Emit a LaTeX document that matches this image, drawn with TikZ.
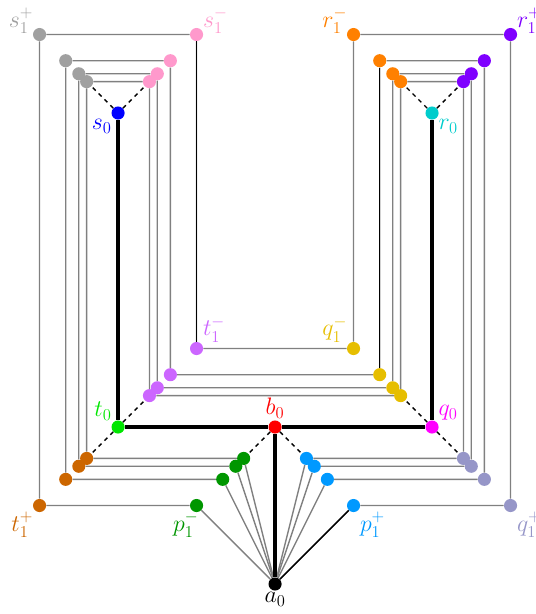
\documentclass[tikz,border=0pt]{standalone}
\usepackage{amsmath}
\usepackage{amssymb}
\usetikzlibrary{positioning}

\definecolor{sPlus}{RGB}{160,160,160}
\definecolor{sMinus}{RGB}{255,153,204}
\definecolor{rMinus}{RGB}{255,128,0}
\definecolor{rPlus}{RGB}{127,0,255}
\definecolor{qPlus}{RGB}{150,150,200}
\definecolor{qMinus}{RGB}{230,190,0}
\definecolor{pPlus}{RGB}{0,153,255}
\definecolor{pMinus}{RGB}{0,150,0}
\definecolor{tPlus}{RGB}{204,102,0}
\definecolor{tMinus}{RGB}{204,102,255}
\definecolor{sZero}{RGB}{0,0,255}
\definecolor{rZero}{RGB}{0,204,204}
\definecolor{tZero}{RGB}{0,230,0}
\definecolor{qZero}{RGB}{255,0,255}

\begin{document}
\begin{tikzpicture}[x=4cm, y=4cm,
    dot/.style={circle, fill=#1, inner sep=0pt, minimum size=9.5pt},
    lbl/.style={text=#1, font=\LARGE, inner sep=1pt},
    wire/.style={black!50, line width=1pt},
    darkwire/.style={black, line width=1pt},
    spine/.style={black, line width=2.8pt},
    link/.style={black, dashed, line width=1pt}]
    \useasboundingbox (-1.752,-1.191) rectangle (1.662,2.720);
    % inner frame
    \node[dot=black] (a0) at (0,-1) {};
    \node[dot=red] (b0) at (0,0) {};
    \node[dot=tZero] (t0) at (-1,0) {};
    \node[dot=qZero] (q0) at (1,0) {};
    \node[dot=sZero] (s0) at (-1,2) {};
    \node[dot=rZero] (r0) at (1,2) {};
    % nested loops
    \foreach \k in {1,2,3,4} {
        \pgfmathsetmacro{\d}{1/(\k+1)}
        \node[dot=sPlus] (sp\k) at (-1-\d,2+\d) {};
        \node[dot=sMinus] (sm\k) at (-1+\d,2+\d) {};
        \node[dot=tMinus] (tm\k) at (-1+\d,\d) {};
        \node[dot=qMinus] (qm\k) at (1-\d,\d) {};
        \node[dot=rMinus] (rm\k) at (1-\d,2+\d) {};
        \node[dot=rPlus] (rp\k) at (1+\d,2+\d) {};
        \node[dot=qPlus] (qp\k) at (1+\d,-\d) {};
        \node[dot=pPlus] (pp\k) at (\d,-\d) {};
        \node[dot=pMinus] (pm\k) at (-\d,-\d) {};
        \node[dot=tPlus] (tp\k) at (-1-\d,-\d) {};
        \draw[wire] (sp\k) -- (sm\k) -- (tm\k) -- (qm\k) -- (rm\k) -- (rp\k)
            -- (qp\k) -- (pp\k) -- (a0) -- (pm\k) -- (tp\k) -- (sp\k);
    }
    \draw[darkwire] (sm1) -- (tm1);
    \draw[darkwire] (rm2) -- (qm2);
    \draw[darkwire] (pp1) -- (a0);
    % dashed links to the innermost loop
    \draw[link] (s0) -- (sp4);
    \draw[link] (s0) -- (sm4);
    \draw[link] (r0) -- (rm4);
    \draw[link] (r0) -- (rp4);
    \draw[link] (t0) -- (tm4);
    \draw[link] (t0) -- (tp4);
    \draw[link] (q0) -- (qm4);
    \draw[link] (q0) -- (qp4);
    \draw[link] (b0) -- (pm4);
    \draw[link] (b0) -- (pp4);
    % spine
    \draw[spine] (a0) -- (b0);
    \draw[spine] (t0) -- (b0) -- (q0);
    \draw[spine] (s0) -- (t0);
    \draw[spine] (q0) -- (r0);
    % labels
    \node[lbl=black, below=0pt of a0] (La0) {$a_0$};
    \node[lbl=red, above=0pt of b0] (Lb0) {$b_0$};
    \node[lbl=tZero, above left=0pt of t0] (Lt0) {$t_0$};
    \node[lbl=qZero, above right=0pt of q0] (Lq0) {$q_0$};
    \node[lbl=sZero, below left=0pt of s0] (Ls0) {$s_0$};
    \node[lbl=rZero, below right=0pt of r0] (Lr0) {$r_0$};
    \node[lbl=sPlus, above left=-4pt and 0pt of sp1] (Lsp1) {$s_1^+$};
    \node[lbl=sMinus, above right=-4pt and 0pt of sm1] (Lsm1) {$s_1^-$};
    \node[lbl=rMinus, above left=-4pt and 0pt of rm1] (Lrm1) {$r_1^-$};
    \node[lbl=rPlus, above right=-4pt and 0pt of rp1] (Lrp1) {$r_1^+$};
    \node[lbl=tMinus, above right=0pt of tm1] (Ltm1) {$t_1^-$};
    \node[lbl=qMinus, above left=0pt of qm1] (Lqm1) {$q_1^-$};
    \node[lbl=tPlus, below left=0pt of tp1] (Ltp1) {$t_1^+$};
    \node[lbl=pMinus, below left=0pt and -6pt of pm1] (Lpm1) {$p_1^-$};
    \node[lbl=pPlus, below right=0pt of pp1] (Lpp1) {$p_1^+$};
    \node[lbl=qPlus, below right=0pt of qp1] (Lqp1) {$q_1^+$};
\end{tikzpicture}
\end{document}
